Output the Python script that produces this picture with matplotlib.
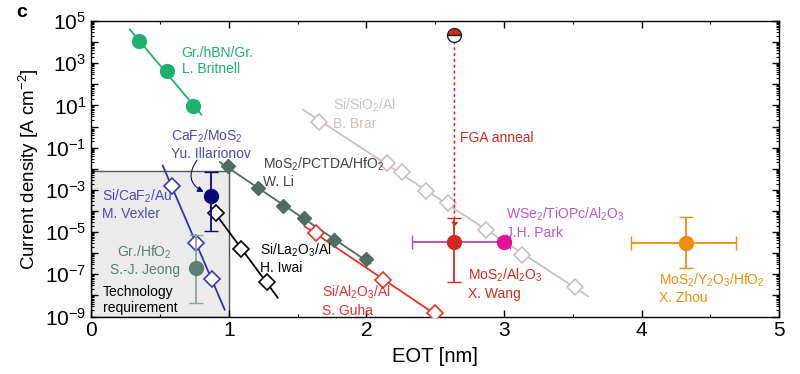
import numpy as np
import matplotlib
matplotlib.use('Agg')
import matplotlib.pyplot as plt
from matplotlib.ticker import LogLocator, FuncFormatter, MultipleLocator, NullFormatter
from matplotlib.patches import Rectangle

plt.rcParams['font.family'] = ['Liberation Sans', 'DejaVu Sans']
plt.rcParams['mathtext.fontset'] = 'custom'
plt.rcParams['mathtext.rm'] = 'Liberation Sans'
plt.rcParams['mathtext.it'] = 'Liberation Sans:italic'
plt.rcParams['mathtext.bf'] = 'Liberation Sans:bold'

# ---------------- data ----------------
britnell_x = [0.345, 0.55, 0.74]
britnell_j = [1.1e4, 4.3e2, 9.4]
li_x = [0.993, 1.211, 1.393, 1.545, 1.764, 1.996]
li_j = [1.3e-2, 1.2e-3, 1.7e-4, 4.6e-5, 4.2e-6, 5.2e-7]
brar_x = [1.655, 2.149, 2.258, 2.433, 2.593, 2.869, 3.131, 3.516]
brar_j = [1.6, 1.9e-2, 6.9e-3, 8.7e-4, 2.3e-4, 1.2e-5, 8.1e-7, 2.5e-8]
vexler_x = [0.585, 0.76, 0.876]
vexler_j = [1.5e-3, 3.0e-6, 5.9e-8]
iwai_x = [0.905, 1.087, 1.274]
iwai_j = [7.9e-5, 1.5e-6, 4.5e-8]
guha_x = [1.633, 2.118, 2.498]
guha_j = [8.7e-6, 5.4e-8, 1.4e-9]

jeong_x, jeong_j, jeong_jlo, jeong_jhi = 0.765, 1.9e-7, 4.2e-9, 7.2e-6
illa_x, illa_j, illa_jlo, illa_jhi = 0.874, 5.2e-4, 1.15e-5, 7.2e-3
wang_x, wang_j, wang_jlo, wang_jhi = 2.64, 3.5e-6, 4.4e-8, 4.5e-5
wang_pre_j = 2.2e4
park_x, park_j, park_xlo, park_xhi = 3.0, 3.4e-6, 2.33, 3.04
zhou_x, zhou_j = 4.32, 2.9e-6
zhou_xlo, zhou_xhi, zhou_jlo, zhou_jhi = 3.92, 4.685, 1.9e-7, 5.0e-5

tech_x = [0.0, 1.0]
tech_j = [1e-9, 8e-3]

# ---------------- colours ----------------
c_green = '#1fb06e'
c_li = '#4f6b63'
c_brar = '#cdbfbf'
c_vex = '#34349c'
c_vex_t = '#5048b0'
c_guha = '#e5322b'
c_jeong = '#5f7d72'
c_jeong_e = '#8da49c'
c_illa = '#0b0b78'
c_wang = '#d42a1f'
c_park = '#e0139a'
c_park_t = '#c456bb'
c_zhou = '#f08c0a'

fig = plt.figure(figsize=(8, 3.74), dpi=100)
ax = fig.add_axes([0.114, 0.1537, 0.86, 0.7902])
ax.set_xlim(0, 5)
ax.set_yscale('log')
ax.set_ylim(1e-9, 1e5)

# technology box
ax.add_patch(Rectangle((tech_x[0], tech_j[0]), tech_x[1] - tech_x[0], tech_j[1] - tech_j[0],
                       facecolor='#ebebeb', edgecolor='#555555', lw=1.0, zorder=0))


def fitline(xs, js, x0, x1, color, lw=1.3):
    p = np.polyfit(xs, np.log10(js), 1)
    xx = np.array([x0, x1])
    ax.plot(xx, 10 ** np.polyval(p, xx), color=color, lw=lw, zorder=2)


fitline(britnell_x, britnell_j, 0.28, 0.80, c_green)
fitline(li_x, li_j, 0.935, 2.03, c_li)
fitline(brar_x, brar_j, 1.54, 3.61, c_brar)
fitline(vexler_x, vexler_j, 0.52, 0.97, c_vex)
fitline(iwai_x, iwai_j, 0.87, 1.356, 'black')
fitline(guha_x, guha_j, 1.55, 2.8, c_guha)

ax.plot(britnell_x, britnell_j, 'o', ms=10, color=c_green, zorder=3)
ax.plot(li_x, li_j, 'D', ms=7.5, color=c_li, zorder=3)
ax.plot(brar_x, brar_j, 'D', ms=8, mfc='white', mec=c_brar, mew=1.2, zorder=3)
ax.plot(vexler_x, vexler_j, 'D', ms=8, mfc='white', mec='#3a3ab8', mew=1.2, zorder=3)
ax.plot(iwai_x, iwai_j, 'D', ms=8, mfc='white', mec='black', mew=1.2, zorder=3)
ax.plot(guha_x, guha_j, 'D', ms=8, mfc='white', mec=c_guha, mew=1.2, zorder=3)

# single points with error bars
ax.errorbar([jeong_x], [jeong_j], yerr=[[jeong_j - jeong_jlo], [jeong_jhi - jeong_j]],
            fmt='o', ms=10, color=c_jeong, ecolor=c_jeong_e, capsize=5, elinewidth=1.3, zorder=3)
ax.errorbar([illa_x], [illa_j], yerr=[[illa_j - illa_jlo], [illa_jhi - illa_j]],
            fmt='o', ms=10, color=c_illa, ecolor=c_illa, capsize=5, elinewidth=1.3, zorder=3)
ax.errorbar([park_x], [park_j], xerr=[[park_x - park_xlo], [park_xhi - park_x]],
            fmt='o', ms=10, color=c_park, ecolor='#d03cb0', capsize=5, elinewidth=1.3, zorder=3)
ax.errorbar([wang_x], [wang_j], yerr=[[wang_j - wang_jlo], [wang_jhi - wang_j]],
            fmt='o', ms=10, color=c_wang, ecolor=c_wang, capsize=5, elinewidth=1.3, zorder=4)
ax.errorbar([zhou_x], [zhou_j], xerr=[[zhou_x - zhou_xlo], [zhou_xhi - zhou_x]],
            yerr=[[zhou_j - zhou_jlo], [zhou_jhi - zhou_j]],
            fmt='o', ms=10, color=c_zhou, ecolor=c_zhou, capsize=5, elinewidth=1.3, zorder=3)

# FGA anneal: before point and dotted arrow
ax.plot([wang_x], [wang_pre_j], 'o', ms=10, mfc=c_wang, mfcalt='white', fillstyle='top',
        mec='#222222', mew=1.0, zorder=4)
ax.annotate('', xy=(wang_x, 1.4e-5), xytext=(wang_x, wang_pre_j / 2.2),
            arrowprops=dict(arrowstyle='-|>,head_length=0.35,head_width=0.18', color=c_wang,
                            ls=(0, (1, 2.5)), lw=1.2, shrinkA=0, shrinkB=0), zorder=3)

# curved arrow to Illarionov point
ax.annotate('', xy=(0.835, 7e-4), xytext=(0.77, 2.6e-2),
            arrowprops=dict(arrowstyle='-|>,head_length=0.35,head_width=0.18', color=c_illa,
                            lw=0.8, connectionstyle='arc3,rad=0.6', shrinkA=0, shrinkB=2))

# labels
fs = 10
ls = 1.22
ax.text(0.658, 1.26e3, 'Gr./hBN/Gr.\nL. Britnell', color=c_green, fontsize=fs, va='center', linespacing=ls)
ax.text(1.756, 4.1, 'Si/SiO$_2$/Al\nB. Brar', color=c_brar, fontsize=fs, va='center', linespacing=ls)
ax.text(0.578, 0.14, 'CaF$_2$/MoS$_2$\nYu. Illarionov', color=c_vex_t, fontsize=fs, va='center', linespacing=ls)
ax.text(1.247, 6.9e-3, 'MoS$_2$/PCTDA/HfO$_2$\nW. Li', color='#404040', fontsize=fs, va='center', linespacing=ls)
ax.text(2.68, 0.285, 'FGA anneal', color=c_wang, fontsize=fs, va='center')
ax.text(0.076, 2.1e-4, 'Si/CaF$_2$/Au\nM. Vexler', color=c_vex_t, fontsize=fs, va='center', linespacing=ls)
ax.text(0.39, 4.7e-7, 'Gr./HfO$_2$\nS.-J. Jeong', color=c_jeong, fontsize=fs, va='center', ha='center',
        linespacing=ls)
ax.text(0.084, 6e-9, 'Technology\nrequirement', color='black', fontsize=fs, va='center', linespacing=ls)
ax.text(1.225, 5.9e-7, 'Si/La$_2$O$_3$/Al\nH. Iwai', color='black', fontsize=fs, va='center', linespacing=ls)
ax.text(1.676, 5.6e-9, 'Si/Al$_2$O$_3$/Al\nS. Guha', color=c_guha, fontsize=fs, va='center', linespacing=ls)
ax.text(3.015, 2.7e-5, 'WSe$_2$/TiOPc/Al$_2$O$_3$\nJ.H. Park', color=c_park_t, fontsize=fs, va='center',
        linespacing=ls)
ax.text(2.738, 3.5e-8, 'MoS$_2$/Al$_2$O$_3$\nX. Wang', color=c_wang, fontsize=fs, va='center', linespacing=ls)
ax.text(4.127, 2.2e-8, 'MoS$_2$/Y$_2$O$_3$/HfO$_2$\nX. Zhou', color=c_zhou, fontsize=fs, va='center',
        linespacing=ls)

# axes styling
ax.xaxis.set_major_locator(MultipleLocator(1))
ax.xaxis.set_minor_locator(MultipleLocator(0.5))
ax.yaxis.set_major_locator(LogLocator(base=10, subs=(1.0,), numticks=20))
ax.yaxis.set_minor_locator(LogLocator(base=10, subs=np.arange(2, 10), numticks=20))
ax.yaxis.set_minor_formatter(NullFormatter())


def yfmt(v, pos):
    e = int(round(np.log10(v)))
    if e % 2 == 0:
        return ''
    return ('$10^{%d}$' % e).replace('-', '\u2212')


ax.yaxis.set_major_formatter(FuncFormatter(yfmt))
ax.tick_params(which='both', direction='in', top=True, right=True, labelsize=15)
ax.tick_params(which='major', length=5, width=1.0)
ax.tick_params(which='minor', length=2.5, width=0.8)
for s in ax.spines.values():
    s.set_linewidth(1.0)

ax.set_xlabel('EOT [nm]', fontsize=14.5, labelpad=5)
ax.set_ylabel('Current density [A cm$^{\u22122}$]', fontsize=13.5, labelpad=3)

fig.text(0.02, 0.967, 'c', fontsize=14, fontweight='bold', va='center')

fig.savefig('out.png', dpi=100)
